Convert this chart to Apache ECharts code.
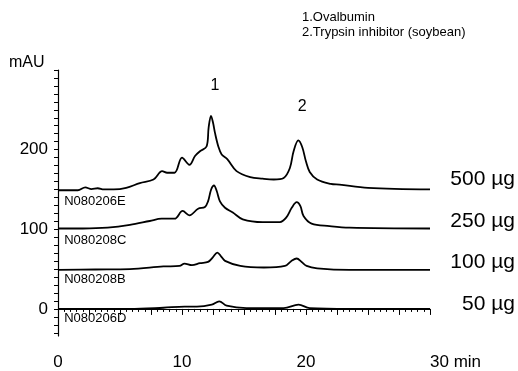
<!DOCTYPE html>
<html>
<head>
<meta charset="utf-8">
<script src="https://cdn.jsdelivr.net/npm/echarts@6/dist/echarts.min.js"></script>
<style>
html, body { margin: 0; padding: 0; background: #fff; }
#chart { width: 518px; height: 371px; }
</style>
</head>
<body>
<div id="chart"></div>
<script>
// retention time (min) and absorbance (mAU)
var time500 = [0, 1.6, 2.2, 2.7, 3.2, 3.7, 4.5, 5.5, 6.6, 7.7, 8.4, 8.8, 9.4, 10.0, 10.6, 11.05, 11.45, 11.98, 12.15, 12.34, 12.5, 12.66, 12.93, 13.2, 13.65, 14.4, 15.5, 16.5, 17.4, 18.2, 18.7, 19.0, 19.38, 19.7, 20.0, 20.3, 20.9, 22.0, 22.7, 25, 30];
var mau500  = [149, 149, 152.5, 150.5, 151.5, 150, 150, 152, 158, 162.5, 173, 171, 171, 190, 181, 192, 198, 204, 228, 242.5, 234, 221, 204, 194, 188, 173, 165.5, 163.5, 162.5, 164.5, 177, 198, 211.6, 203, 185, 172, 162.5, 157, 156, 152, 150];

var time250 = [0, 2, 4, 5.8, 7.4, 8.36, 9.4, 10.05, 10.6, 11.3, 11.85, 12.1, 12.35, 12.58, 12.8, 13.06, 13.47, 14.1, 14.9, 16.5, 17.9, 18.4, 18.85, 19.25, 19.55, 19.8, 20.45, 21.9, 23.5, 30];
var mau250  = [101, 101, 102, 105.4, 110.4, 113.3, 113.3, 123, 117.5, 125.8, 128, 135, 150, 155, 148, 135, 127, 121, 112.5, 109, 109, 114.6, 127, 134, 129, 116.6, 107, 104, 102, 101];

var time100 = [0, 3, 5.8, 8.5, 9.8, 10.2, 10.8, 11.45, 12.1, 12.5, 12.85, 13.15, 13.47, 14.7, 16.6, 18.3, 18.8, 19.25, 19.65, 20.05, 20.9, 23.5, 30];
var mau100  = [49, 49.5, 50, 53.3, 54, 57, 55, 57.5, 59, 65, 70.8, 66, 60.4, 54, 52, 54, 60, 63.3, 59, 54, 51, 49, 49];

var time50 = [0, 5.8, 8.5, 10.2, 11.2, 12.4, 13.0, 13.6, 15.2, 18.2, 19.4, 20.3, 23.5, 30];
var mau50  = [0, 0, 1.5, 3, 3, 5.4, 9.6, 4, 1, 1, 5.4, 1, 0, 0];

var doses = ['500 µg', '250 µg', '100 µg', '50 µg'];
var sampleIds = ['N080206E', 'N080208C', 'N080208B', 'N080206D'];
var peakNames = ['1', '2'];
var legendLines = ['1.Ovalbumin', '2.Trypsin inhibitor (soybean)'];
var xLabels = [0, 10, 20, 30];
var yLabels = [0, 100, 200];

var font = 'Liberation Sans, Arial, Helvetica, sans-serif';
var chart = echarts.init(document.getElementById('chart'));

function pairs(ts, vs) {
  return ts.map(function (t, i) { return [t, vs[i]]; });
}

var traces = [
  pairs(time500, mau500),
  pairs(time250, mau250),
  pairs(time100, mau100),
  pairs(time50, mau50)
];

var yTicks = [];
for (var v = -30; v <= 300; v += 10) yTicks.push(v);

var option = {
  animation: false,
  backgroundColor: '#fff',
  grid: { left: 58, right: 88, top: 70, bottom: 34 },
  xAxis: {
    type: 'value',
    min: 0,
    max: 30,
    interval: 2.5,
    axisLine: { lineStyle: { color: '#000', width: 1.2 } },
    axisTick: { length: 6, lineStyle: { color: '#000' } },
    minorTick: { show: true, splitNumber: 5, length: 3, lineStyle: { color: '#000' } },
    splitLine: { show: false },
    minorSplitLine: { show: false },
    axisLabel: {
      customValues: xLabels,
      margin: 18,
      color: '#000',
      fontSize: 17,
      fontFamily: font,
      alignMaxLabel: 'left',
      formatter: function (val) { return val === 30 ? '30 min' : String(val); }
    }
  },
  yAxis: {
    type: 'value',
    min: -34,
    max: 300,
    axisLine: { show: true, lineStyle: { color: '#000', width: 1.2 } },
    axisTick: { show: true, customValues: yTicks, length: 4, lineStyle: { color: '#000' } },
    splitLine: { show: false },
    axisLabel: {
      customValues: yLabels,
      margin: 10,
      color: '#000',
      fontSize: 17,
      fontFamily: font
    }
  },
  series: traces.map(function (d, i) {
    return {
      name: doses[i],
      type: 'line',
      data: d,
      smooth: 0.35,
      showSymbol: false,
      lineStyle: { color: '#000', width: 1.8 }
    };
  })
};

chart.setOption(option);

function px(t, v) { return chart.convertToPixel({ gridIndex: 0 }, [t, v]); }

var graphics = [];
var txt = function (pos, text, size, align) {
  graphics.push({
    type: 'text',
    x: pos[0],
    y: pos[1],
    style: { text: text, fill: '#000', font: size + 'px ' + font, align: align || 'left', verticalAlign: 'middle' }
  });
};

// axis unit
txt([9, 63], 'mAU', 16);
// peak numbers
txt(px(12.66, 280), peakNames[0], 16, 'center');
txt(px(19.7, 254), peakNames[1], 16, 'center');
// annotation block
txt([302, 17], legendLines[0], 13);
txt([302, 32], legendLines[1], 13);
// sample ids under each trace, dose labels at right
var idOffsets = [-14, -14.5, -11.5, -11.7];
var doseOffsets = [13.5, 9, 9.75, 6.25];
traces.forEach(function (d, i) {
  var base = d[0][1];
  txt(px(0.5, base + idOffsets[i]), sampleIds[i], 13);
  var p = px(30, d[d.length - 1][1] + doseOffsets[i]);
  txt([515, p[1]], doses[i], 21, 'right');
});

chart.setOption({ graphic: graphics });
</script>
</body>
</html>
